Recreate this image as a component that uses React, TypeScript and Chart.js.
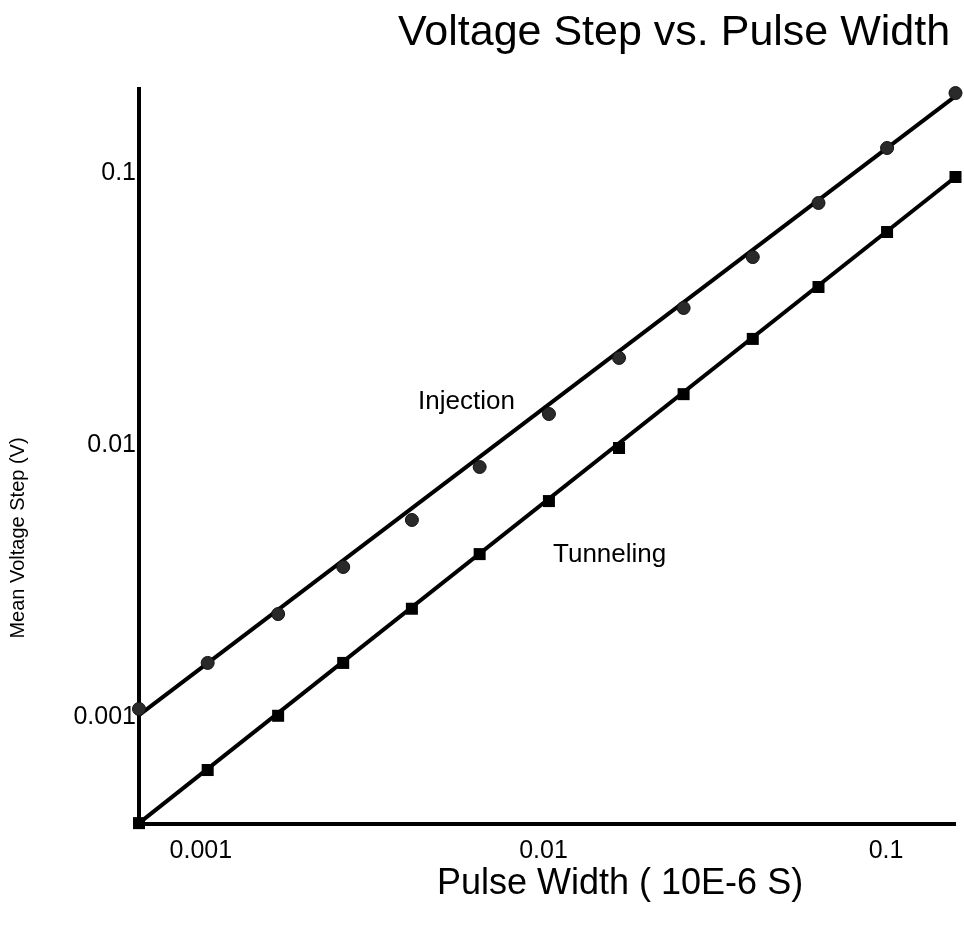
import React, { useEffect, useRef } from "react";
import { Chart, registerables } from "chart.js";

Chart.register(...registerables);

// ---- data ----
const pulseWidth = [
  0.000687, 0.00109, 0.00175, 0.00271, 0.0043, 0.00678, 0.0108, 0.0173, 0.0267,
  0.0425, 0.0661, 0.1048, 0.166,
];
const injectionStep = [
  0.00107, 0.00158, 0.00239, 0.00356, 0.0053, 0.0083, 0.013, 0.0209, 0.0319,
  0.0491, 0.0776, 0.1236, 0.1968,
];
const tunnelingStep = [
  0.000407, 0.000638, 0.00101, 0.00158, 0.0025, 0.00397, 0.00622, 0.00975,
  0.01538, 0.02455, 0.0381, 0.0607, 0.0967,
];
const fitX = [0.000687, 0.166];
const injectionFitY = [0.001016, 0.1918];
const tunnelingFitY = [0.000407, 0.0967];

const xTickValues = [0.001, 0.01, 0.1];
const yTickValues = [0.001, 0.01, 0.1];
const xRange = [0.000687, 0.166];
const yRange = [0.000404, 0.2037];

const titleText = "Voltage Step vs. Pulse Width";
const xTitleText = "Pulse Width ( 10E-6 S)";
const yTitleText = "Mean Voltage Step (V)";
const injectionLabel = "Injection";
const tunnelingLabel = "Tunneling";

const FONT = '"Liberation Sans", Arial, Helvetica, sans-serif';

const textPlugin = {
  id: "textLabels",
  afterDraw(chart: any) {
    const ctx = chart.ctx as CanvasRenderingContext2D;
    ctx.save();
    ctx.fillStyle = "#000";
    ctx.textBaseline = "alphabetic";
    ctx.textAlign = "left";
    ctx.font = `43px ${FONT}`;
    ctx.fillText(titleText, 398, 45);
    ctx.font = `36px ${FONT}`;
    ctx.fillText(xTitleText, 437, 894);
    ctx.font = `26px ${FONT}`;
    ctx.fillText(injectionLabel, 418, 409);
    ctx.fillText(tunnelingLabel, 553, 562);
    ctx.translate(18, 538);
    ctx.rotate(-Math.PI / 2);
    ctx.textAlign = "center";
    ctx.textBaseline = "middle";
    ctx.font = `20px ${FONT}`;
    ctx.fillText(yTitleText, 0, 0);
    ctx.restore();
  },
};

export default function App() {
  const ref = useRef<HTMLCanvasElement | null>(null);

  useEffect(() => {
    document.body.style.margin = "0";
    if (!ref.current) return;
    const toPts = (xs: number[], ys: number[]) => xs.map((x, i) => ({ x, y: ys[i] }));
    const chart = new Chart(ref.current, {
      type: "scatter",
      data: {
        datasets: [
          {
            label: injectionLabel,
            data: toPts(pulseWidth, injectionStep),
            pointStyle: "circle",
            pointRadius: 6.5,
            backgroundColor: "#2a2a2a",
            borderColor: "#111",
            borderWidth: 1,
            showLine: false,
            clip: false,
          },
          {
            label: tunnelingLabel,
            data: toPts(pulseWidth, tunnelingStep),
            pointStyle: "rect",
            pointRadius: 8.5,
            backgroundColor: "#000",
            borderColor: "#000",
            borderWidth: 0,
            showLine: false,
            clip: false,
          },
          {
            label: "Injection fit",
            data: toPts(fitX, injectionFitY),
            showLine: true,
            borderColor: "#000",
            borderWidth: 4,
            pointRadius: 0,
            clip: false,
          },
          {
            label: "Tunneling fit",
            data: toPts(fitX, tunnelingFitY),
            showLine: true,
            borderColor: "#000",
            borderWidth: 4,
            pointRadius: 0,
            clip: false,
          },
        ],
      },
      options: {
        animation: false,
        responsive: false,
        devicePixelRatio: 1,
        layout: { padding: { left: 0, top: 89, right: 6, bottom: 0 } },
        plugins: {
          legend: { display: false },
          title: { display: false },
          tooltip: { enabled: false },
        },
        scales: {
          x: {
            type: "logarithmic",
            min: xRange[0],
            max: xRange[1],
            grid: { display: false, drawTicks: false },
            border: { display: true, color: "#000", width: 4 },
            afterBuildTicks: (scale: any) => {
              scale.ticks = xTickValues.map((v) => ({ value: v }));
            },
            afterFit: (scale: any) => {
              scale.height = 110;
            },
            ticks: {
              autoSkip: false,
              maxRotation: 0,
              padding: 12,
              labelOffset: 6,
              color: "#000",
              font: { family: FONT, size: 25 },
              callback: (v: any) => String(v),
            },
          },
          y: {
            type: "logarithmic",
            min: yRange[0],
            max: yRange[1],
            grid: { display: false, drawTicks: false },
            border: { display: true, color: "#000", width: 4 },
            afterBuildTicks: (scale: any) => {
              scale.ticks = yTickValues.map((v) => ({ value: v }));
            },
            afterFit: (scale: any) => {
              scale.width = 139;
            },
            ticks: {
              autoSkip: false,
              padding: 3,
              color: "#000",
              font: { family: FONT, size: 25 },
              callback: (v: any) => String(v),
            },
          },
        },
      },
      plugins: [textPlugin],
    });
    return () => chart.destroy();
  }, []);

  return (
    <div style={{ position: "absolute", left: 0, top: 0, width: 964, height: 934, background: "#fff" }}>
      <canvas ref={ref} width={964} height={934} style={{ width: 964, height: 934, display: "block" }} />
    </div>
  );
}
